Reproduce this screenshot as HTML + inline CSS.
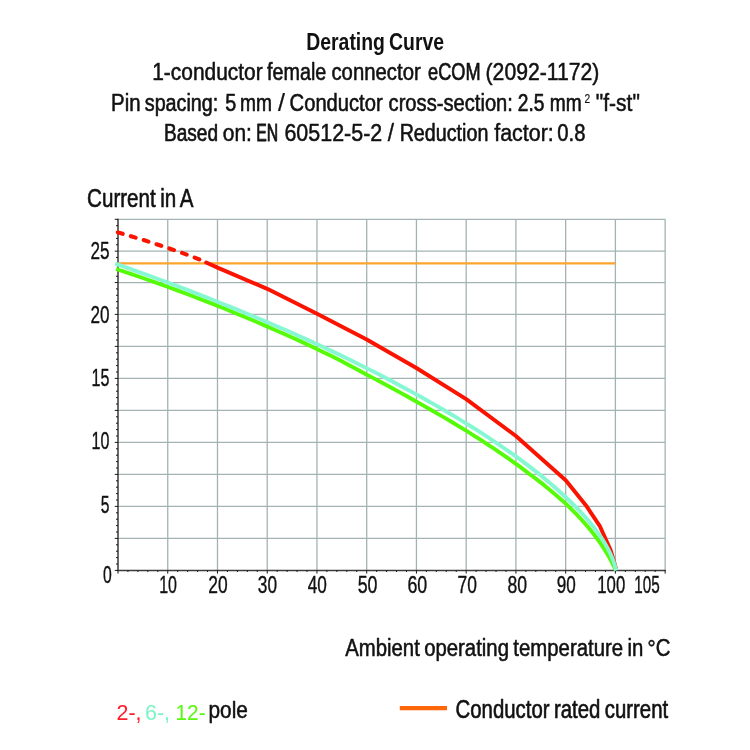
<!DOCTYPE html>
<html><head><meta charset="utf-8"><title>Derating Curve</title>
<style>
html,body{margin:0;padding:0;background:#fff}
svg{display:block}
text{font-family:"Liberation Sans",sans-serif;white-space:pre;word-spacing:-1.5px;stroke-linejoin:round}
</style></head>
<body>
<svg width="750" height="750" viewBox="0 0 750 750">
<rect width="750" height="750" fill="#fff"/>
<g stroke="#a3b3b3" stroke-width="1.3" fill="none">
<line x1="167.74" y1="219.30" x2="167.74" y2="570.40"/>
<line x1="217.48" y1="219.30" x2="217.48" y2="570.40"/>
<line x1="267.22" y1="219.30" x2="267.22" y2="570.40"/>
<line x1="316.96" y1="219.30" x2="316.96" y2="570.40"/>
<line x1="366.70" y1="219.30" x2="366.70" y2="570.40"/>
<line x1="416.44" y1="219.30" x2="416.44" y2="570.40"/>
<line x1="466.18" y1="219.30" x2="466.18" y2="570.40"/>
<line x1="515.92" y1="219.30" x2="515.92" y2="570.40"/>
<line x1="565.66" y1="219.30" x2="565.66" y2="570.40"/>
<line x1="615.40" y1="219.30" x2="615.40" y2="570.40"/>
<line x1="665.14" y1="219.30" x2="665.14" y2="570.40"/>
<line x1="118.00" y1="538.40" x2="665.14" y2="538.40"/>
<line x1="118.00" y1="506.40" x2="665.14" y2="506.40"/>
<line x1="118.00" y1="474.40" x2="665.14" y2="474.40"/>
<line x1="118.00" y1="442.40" x2="665.14" y2="442.40"/>
<line x1="118.00" y1="410.40" x2="665.14" y2="410.40"/>
<line x1="118.00" y1="378.40" x2="665.14" y2="378.40"/>
<line x1="118.00" y1="346.40" x2="665.14" y2="346.40"/>
<line x1="118.00" y1="314.40" x2="665.14" y2="314.40"/>
<line x1="118.00" y1="282.55" x2="665.14" y2="282.55"/>
<line x1="118.00" y1="251.15" x2="665.14" y2="251.15"/>
<line x1="118.00" y1="219.30" x2="665.14" y2="219.30"/>
</g>
<path d="M118.00 218.70V570.40H665.74" fill="none" stroke="#3a3a3a" stroke-width="1.5"/>
<path d="M118.00 570.40h-3.2M118.00 564.00h-2.0M118.00 557.60h-2.0M118.00 551.20h-2.0M118.00 544.80h-2.0M118.00 538.40h-3.2M118.00 532.00h-2.0M118.00 525.60h-2.0M118.00 519.20h-2.0M118.00 512.80h-2.0M118.00 506.40h-3.2M118.00 500.00h-2.0M118.00 493.60h-2.0M118.00 487.20h-2.0M118.00 480.80h-2.0M118.00 474.40h-3.2M118.00 468.00h-2.0M118.00 461.60h-2.0M118.00 455.20h-2.0M118.00 448.80h-2.0M118.00 442.40h-3.2M118.00 436.00h-2.0M118.00 429.60h-2.0M118.00 423.20h-2.0M118.00 416.80h-2.0M118.00 410.40h-3.2M118.00 404.00h-2.0M118.00 397.60h-2.0M118.00 391.20h-2.0M118.00 384.80h-2.0M118.00 378.40h-3.2M118.00 372.00h-2.0M118.00 365.60h-2.0M118.00 359.20h-2.0M118.00 352.80h-2.0M118.00 346.40h-3.2M118.00 340.00h-2.0M118.00 333.60h-2.0M118.00 327.20h-2.0M118.00 320.80h-2.0M118.00 314.40h-3.2M118.00 308.03h-2.0M118.00 301.66h-2.0M118.00 295.29h-2.0M118.00 288.92h-2.0M118.00 282.55h-3.2M118.00 276.27h-2.0M118.00 269.99h-2.0M118.00 263.71h-2.0M118.00 257.43h-2.0M118.00 251.15h-3.2M118.00 244.78h-2.0M118.00 238.41h-2.0M118.00 232.04h-2.0M118.00 225.67h-2.0M118.00 219.30h-3.2M118.00 570.40v3.2M127.95 570.40v1.6M137.90 570.40v1.6M147.84 570.40v1.6M157.79 570.40v1.6M167.74 570.40v3.2M177.69 570.40v1.6M187.64 570.40v1.6M197.58 570.40v1.6M207.53 570.40v1.6M217.48 570.40v3.2M227.43 570.40v1.6M237.38 570.40v1.6M247.32 570.40v1.6M257.27 570.40v1.6M267.22 570.40v3.2M277.17 570.40v1.6M287.12 570.40v1.6M297.06 570.40v1.6M307.01 570.40v1.6M316.96 570.40v3.2M326.91 570.40v1.6M336.86 570.40v1.6M346.80 570.40v1.6M356.75 570.40v1.6M366.70 570.40v3.2M376.65 570.40v1.6M386.60 570.40v1.6M396.54 570.40v1.6M406.49 570.40v1.6M416.44 570.40v3.2M426.39 570.40v1.6M436.34 570.40v1.6M446.28 570.40v1.6M456.23 570.40v1.6M466.18 570.40v3.2M476.13 570.40v1.6M486.08 570.40v1.6M496.02 570.40v1.6M505.97 570.40v1.6M515.92 570.40v3.2M525.87 570.40v1.6M535.82 570.40v1.6M545.76 570.40v1.6M555.71 570.40v1.6M565.66 570.40v3.2M575.61 570.40v1.6M585.56 570.40v1.6M595.50 570.40v1.6M605.45 570.40v1.6M615.40 570.40v3.2M625.35 570.40v1.6M635.30 570.40v1.6M645.24 570.40v1.6M655.19 570.40v1.6M665.14 570.40v3.2" fill="none" stroke="#1a1a1a" stroke-width="1"/>
<line x1="118.00" y1="263.4" x2="615.40" y2="263.4" stroke="#fba52c" stroke-width="2.1"/>
<polyline points="117.90,232.40 142.00,239.50 167.70,247.87 184.00,253.60 196.00,258.06 205.10,261.93" fill="none" stroke="#fa1400" stroke-width="4.1" stroke-dasharray="4.97 8.5" stroke-linecap="round"/>
<polyline points="206.20,262.43 217.50,267.61 267.20,288.85 317.00,313.66 366.70,339.44 416.40,368.00 466.20,399.11 515.90,436.04 565.70,480.28 586.00,505.42 600.00,526.45 610.70,550.27 615.70,567.60" fill="none" stroke="#fa1400" stroke-width="3.9" stroke-linejoin="round" stroke-linecap="round"/>
<polyline points="116.13,269.00 129.28,273.37 142.09,277.74 154.57,282.10 166.75,286.47 178.65,290.84 190.27,295.21 201.63,299.58 212.75,303.94 223.65,308.31 234.33,312.68 244.80,317.02 255.08,321.32 265.18,325.62 275.10,329.92 284.86,334.22 294.46,338.53 303.92,342.88 313.22,347.29 322.40,351.71 331.43,356.12 340.35,360.54 349.13,365.19 357.80,369.84 366.35,374.44 374.79,378.87 383.11,383.30 391.32,387.73 399.42,392.16 407.41,396.58 415.29,401.01 423.06,405.40 430.72,409.74 438.27,414.09 445.70,418.43 453.02,422.77 460.23,427.12 467.31,431.46 474.28,435.81 481.13,440.16 487.84,444.54 494.43,448.92 500.89,453.30 507.22,457.68 513.41,462.06 519.46,466.44 525.36,470.82 531.12,475.18 536.73,479.42 542.19,483.66 547.49,487.91 552.63,492.16 557.61,496.41 562.43,500.67 567.08,504.97 571.56,509.33 575.87,513.68 580.01,518.04 583.97,522.40 587.75,526.75 591.36,531.11 594.78,535.47 598.03,539.83 601.10,544.19 603.99,548.56 606.70,552.93 609.23,557.30 611.59,561.66 613.77,566.03 615.78,570.40" fill="none" stroke="#55fb08" stroke-width="3.9" stroke-linejoin="round"/>
<polyline points="115.25,263.70 127.98,268.14 140.50,272.59 152.81,277.03 164.91,281.48 176.81,285.92 188.51,290.37 200.02,294.81 211.34,299.26 222.48,303.70 233.44,308.15 244.22,312.57 254.84,316.94 265.28,321.32 275.56,325.69 285.68,330.07 295.65,334.45 305.46,338.85 315.12,343.28 324.63,347.70 334.00,352.13 343.22,356.56 352.31,360.99 361.25,365.43 370.06,369.88 378.74,374.32 387.28,378.77 395.69,383.21 403.97,387.66 412.12,392.10 420.15,396.55 428.04,400.97 435.81,405.38 443.45,409.80 450.97,414.22 458.35,418.64 465.61,423.07 472.75,427.49 479.75,431.91 486.62,436.37 493.36,440.82 499.97,445.28 506.44,449.74 512.77,454.20 518.97,458.65 525.02,463.11 530.93,467.58 536.69,472.11 542.30,476.64 547.75,481.17 553.05,485.69 558.18,490.21 563.14,494.73 567.93,499.25 572.55,503.73 576.98,508.17 581.22,512.62 585.27,517.06 589.12,521.51 592.76,525.95 596.19,530.40 599.40,534.84 602.38,539.29 605.12,543.73 607.62,548.18 609.87,552.62 611.85,557.07 613.57,561.51 615.00,565.96 616.15,570.40" fill="none" stroke="#86f7d2" stroke-width="3.9" stroke-linejoin="round"/>
<line x1="399.8" y1="708.1" x2="447" y2="708.1" stroke="#ff6608" stroke-width="4.1"/>
<g opacity="0.999">
<text transform="translate(306.25,49.80) scale(0.8088,1)" font-size="24" font-weight="bold" fill="#111" stroke="#111" stroke-width="0">Derating Curve</text>
<text transform="translate(152.17,79.80) scale(0.8724,1)" font-size="24" font-weight="normal" fill="#111" stroke="#111" stroke-width="0.53">1-conductor</text>
<text transform="translate(267.05,79.80) scale(0.8221,1)" font-size="24" font-weight="normal" fill="#111" stroke="#111" stroke-width="0.61">female</text>
<text transform="translate(331.45,79.80) scale(0.8472,1)" font-size="24" font-weight="normal" fill="#111" stroke="#111" stroke-width="0.57">connector</text>
<text transform="translate(428.07,79.80) scale(0.7567,1)" font-size="24" font-weight="normal" fill="#111" stroke="#111" stroke-width="0.72">eCOM</text>
<text transform="translate(485.55,79.80) scale(0.8829,1)" font-size="24" font-weight="normal" fill="#111" stroke="#111" stroke-width="0.51">(2092-1172)</text>
<text transform="translate(111.10,110.60) scale(0.8488,1)" font-size="24" font-weight="normal" fill="#111" stroke="#111" stroke-width="0.57">Pin</text>
<text transform="translate(144.75,110.60) scale(0.8238,1)" font-size="24" font-weight="normal" fill="#111" stroke="#111" stroke-width="0.61">spacing:</text>
<text transform="translate(225.25,110.60) scale(0.8226,1)" font-size="24" font-weight="normal" fill="#111" stroke="#111" stroke-width="0.61">5</text>
<text transform="translate(239.96,110.60) scale(0.7995,1)" font-size="24" font-weight="normal" fill="#111" stroke="#111" stroke-width="0.65">mm</text>
<text transform="translate(277.99,110.60) scale(1.0469,1)" font-size="24" font-weight="normal" fill="#111" stroke="#111" stroke-width="0.25">/</text>
<text transform="translate(289.61,110.60) scale(0.8410,1)" font-size="24" font-weight="normal" fill="#111" stroke="#111" stroke-width="0.58">Conductor</text>
<text transform="translate(388.55,110.60) scale(0.8408,1)" font-size="24" font-weight="normal" fill="#111" stroke="#111" stroke-width="0.58">cross-section:</text>
<text transform="translate(517.76,110.60) scale(0.7994,1)" font-size="24" font-weight="normal" fill="#111" stroke="#111" stroke-width="0.65">2.5</text>
<text transform="translate(549.76,110.60) scale(0.7995,1)" font-size="24" font-weight="normal" fill="#111" stroke="#111" stroke-width="0.65">mm</text>
<text transform="translate(584.56,102.70) scale(0.8125,1)" font-size="12.5" font-weight="normal" fill="#111" stroke="#111" stroke-width="0.2">2</text>
<text transform="translate(595.84,110.60) scale(0.8745,1)" font-size="24" font-weight="normal" fill="#111" stroke="#111" stroke-width="0.53">"f-st"</text>
<text transform="translate(163.97,140.60) scale(0.7951,1)" font-size="24" font-weight="normal" fill="#111" stroke="#111" stroke-width="0.65">Based</text>
<text transform="translate(222.74,140.60) scale(0.8726,1)" font-size="24" font-weight="normal" fill="#111" stroke="#111" stroke-width="0.53">on:</text>
<text transform="translate(256.14,140.60) scale(0.6579,1)" font-size="24" font-weight="normal" fill="#111" stroke="#111" stroke-width="0.87">EN</text>
<text transform="translate(284.44,140.60) scale(0.8939,1)" font-size="24" font-weight="normal" fill="#111" stroke="#111" stroke-width="0.5">60512-5-2</text>
<text transform="translate(387.72,140.60) scale(0.9375,1)" font-size="24" font-weight="normal" fill="#111" stroke="#111" stroke-width="0.43">/</text>
<text transform="translate(399.63,140.60) scale(0.8216,1)" font-size="24" font-weight="normal" fill="#111" stroke="#111" stroke-width="0.61">Reduction</text>
<text transform="translate(494.23,140.60) scale(0.8944,1)" font-size="24" font-weight="normal" fill="#111" stroke="#111" stroke-width="0.49">factor:</text>
<text transform="translate(557.25,140.60) scale(0.8457,1)" font-size="24" font-weight="normal" fill="#111" stroke="#111" stroke-width="0.57">0.8</text>
<text transform="translate(87.03,206.60) scale(0.8250,1)" font-size="25" font-weight="normal" fill="#111" stroke="#111" stroke-width="0.61">Current in A</text>
<text transform="translate(345.14,655.70) scale(0.8667,1)" font-size="23.5" font-weight="normal" fill="#111" stroke="#111" stroke-width="0.54">Ambient operating temperature in °C</text>
<text transform="translate(455.54,717.80) scale(0.8149,1)" font-size="25" font-weight="normal" fill="#111" stroke="#111" stroke-width="0.62">Conductor rated current</text>
<text transform="translate(116.47,719.60) scale(0.9487,1)" font-size="22.6" font-weight="normal" fill="#ff1f2c" stroke="#ff1f2c" stroke-width="0.05">2-,</text>
<text transform="translate(144.96,719.60) scale(0.9530,1)" font-size="22.6" font-weight="normal" fill="#7cf5c4" stroke="#7cf5c4" stroke-width="0.05">6-,</text>
<text transform="translate(175.50,719.60) scale(0.9243,1)" font-size="22.6" font-weight="normal" fill="#58f714" stroke="#58f714" stroke-width="0.05">12-</text>
<text transform="translate(208.46,717.50) scale(0.8797,1)" font-size="23.7" font-weight="normal" fill="#111" stroke="#111" stroke-width="0.52">pole</text>
<text transform="translate(90.45,258.90) scale(0.7295,1)" font-size="23.5" font-weight="normal" fill="#111" stroke="#111" stroke-width="0.38">25</text>
<text transform="translate(90.45,322.60) scale(0.7295,1)" font-size="23.5" font-weight="normal" fill="#111" stroke="#111" stroke-width="0.38">20</text>
<text transform="translate(91.61,386.00) scale(0.6844,1)" font-size="23.5" font-weight="normal" fill="#111" stroke="#111" stroke-width="0.38">15</text>
<text transform="translate(91.61,449.30) scale(0.6844,1)" font-size="23.5" font-weight="normal" fill="#111" stroke="#111" stroke-width="0.38">10</text>
<text transform="translate(100.73,513.20) scale(0.6667,1)" font-size="23.5" font-weight="normal" fill="#111" stroke="#111" stroke-width="0.38">5</text>
<text transform="translate(103.00,583.00) scale(0.6694,1)" font-size="23.5" font-weight="normal" fill="#111" stroke="#111" stroke-width="0.38">0</text>
<text transform="translate(159.22,592.80) scale(0.6803,1)" font-size="23.5" font-weight="normal" fill="#111" stroke="#111" stroke-width="0.38">10</text>
<text transform="translate(208.24,592.80) scale(0.7418,1)" font-size="23.5" font-weight="normal" fill="#111" stroke="#111" stroke-width="0.38">20</text>
<text transform="translate(257.85,592.80) scale(0.7336,1)" font-size="23.5" font-weight="normal" fill="#111" stroke="#111" stroke-width="0.38">30</text>
<text transform="translate(307.68,592.80) scale(0.7323,1)" font-size="23.5" font-weight="normal" fill="#111" stroke="#111" stroke-width="0.38">40</text>
<text transform="translate(357.71,592.80) scale(0.7582,1)" font-size="23.5" font-weight="normal" fill="#111" stroke="#111" stroke-width="0.38">50</text>
<text transform="translate(407.41,592.80) scale(0.7582,1)" font-size="23.5" font-weight="normal" fill="#111" stroke="#111" stroke-width="0.38">60</text>
<text transform="translate(457.44,592.80) scale(0.7418,1)" font-size="23.5" font-weight="normal" fill="#111" stroke="#111" stroke-width="0.38">70</text>
<text transform="translate(507.52,592.80) scale(0.7500,1)" font-size="23.5" font-weight="normal" fill="#111" stroke="#111" stroke-width="0.38">80</text>
<text transform="translate(556.75,592.80) scale(0.7295,1)" font-size="23.5" font-weight="normal" fill="#111" stroke="#111" stroke-width="0.38">90</text>
<text transform="translate(597.27,592.80) scale(0.7139,1)" font-size="23.5" font-weight="normal" fill="#111" stroke="#111" stroke-width="0.38">100</text>
<text transform="translate(634.36,592.80) scale(0.6497,1)" font-size="23.5" font-weight="normal" fill="#111" stroke="#111" stroke-width="0.38">105</text>
</g>
</svg>
</body></html>
